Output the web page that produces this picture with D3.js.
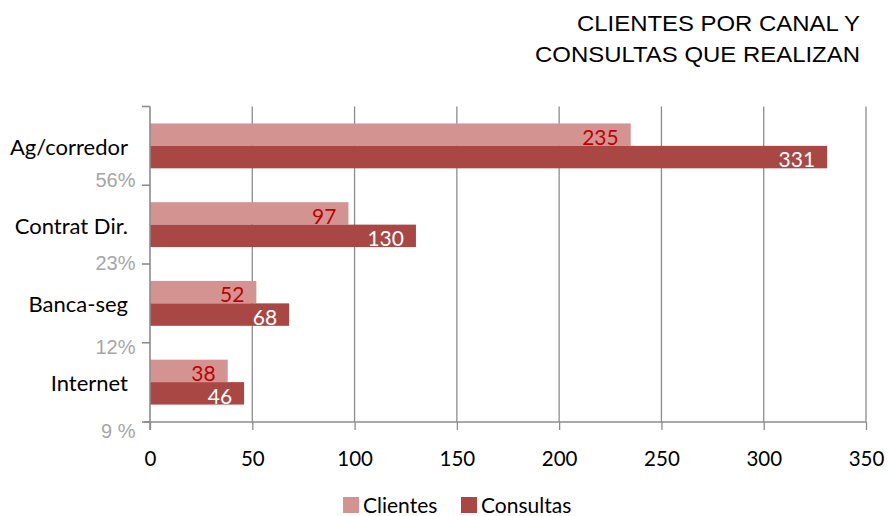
<!DOCTYPE html>
<html><head><meta charset="utf-8">
<script src="https://cdn.jsdelivr.net/npm/d3@7"></script>
<style>body{margin:0;background:#fff}svg{display:block}</style>
</head><body>
<svg id="c" width="889" height="516"></svg>
<script>
const categories = ["Ag/corredor", "Contrat Dir.", "Banca-seg", "Internet"];
const percents = ["56%", "23%", "12%", "9 %"];
const clientes = [235, 97, 52, 38];
const consultas = [331, 130, 68, 46];
const xTicks = [0, 50, 100, 150, 200, 250, 300, 350];
const seriesNames = ["Clientes", "Consultas"];
const colors = ["#d39391", "#a94745"];
const titleLines = ["CLIENTES POR CANAL Y", "CONSULTAS QUE REALIZAN"];

(function () {
const svg = d3.select("#c");
const mLeft = 150, mRight = 866, mTop = 106.5, mBottom = 422;
const x = d3.scaleLinear().domain([0, 350]).range([mLeft, mRight]);
const y = d3.scaleBand().domain(categories).range([mTop, mBottom - 0.5]).paddingInner(0.43).paddingOuter(0.215);
const sub = d3.scaleBand().domain(seriesNames).range([0, y.bandwidth()]);
const calib = "Lato, 'Open Sans', sans-serif";
const arial = "Arial, 'Liberation Sans', Helvetica, sans-serif";
const grey = "#8c8c8c";

// gridlines
svg.append("g").selectAll("line").data(xTicks.slice(1)).join("line")
  .attr("x1", d => x(d)).attr("x2", d => x(d)).attr("y1", mTop).attr("y2", mBottom)
  .attr("stroke", grey).attr("stroke-width", 1.3);

// bars
const data = categories.map((c, i) => ({c, vals: [clientes[i], consultas[i]]}));
const g = svg.append("g");
data.forEach(d => {
  d.vals.forEach((v, j) => {
    const by = y(d.c) + sub(seriesNames[j]);
    g.append("rect").attr("x", x(0)).attr("y", by)
      .attr("width", x(v) - x(0)).attr("height", sub.bandwidth()).attr("fill", colors[j]);
    g.append("text").attr("x", x(v) - 12).attr("y", by + sub.bandwidth() - 1)
      .attr("text-anchor", "end").attr("font-family", calib).attr("font-size", 21)
      .attr("fill", j === 0 ? "#c00000" : "#ffffff").text(v);
  });
});

// x axis
const xa = svg.append("g").attr("transform", `translate(0,${mBottom})`)
  .call(d3.axisBottom(x).tickValues(xTicks).tickSize(8).tickPadding(21));
xa.select(".domain").attr("stroke", grey).attr("stroke-width", 1.5).attr("d", `M${mLeft - 6},0H${mRight}`);
xa.selectAll(".tick line").attr("stroke", grey).attr("stroke-width", 1.3);
xa.selectAll(".tick text").attr("font-family", calib).attr("font-size", 20.5).attr("fill", "#000");

// y axis line and ticks at category boundaries
const bounds = [mTop, ...categories.map((c, i) => i < categories.length - 1 ? (y(c) + y.bandwidth() + y(categories[i + 1])) / 2 : mBottom)];
svg.append("line").attr("x1", mLeft).attr("x2", mLeft).attr("y1", mTop).attr("y2", mBottom + 8)
  .attr("stroke", grey).attr("stroke-width", 1.6);
svg.append("g").selectAll("line").data(bounds).join("line")
  .attr("x1", mLeft - 8).attr("x2", mLeft).attr("y1", d => d).attr("y2", d => d)
  .attr("stroke", grey).attr("stroke-width", 1.6);

// category labels
svg.append("g").selectAll("text").data(categories).join("text")
  .attr("x", 128).attr("y", d => y(d) + y.bandwidth() / 2 + 9)
  .attr("text-anchor", "end").attr("font-family", calib).attr("font-size", 22).attr("fill", "#000").text(d => d);

// percent labels
const py = d3.scalePoint().domain(percents).range([186.5, 437.5]);
svg.append("g").selectAll("text").data(percents).join("text")
  .attr("x", 135.5).attr("y", d => py(d))
  .attr("text-anchor", "end").style("font-family", arial)
  .attr("font-size", 20).attr("fill", "#a6a6a6").text(d => d);

// title
const tw = [283, 325];
svg.append("g").selectAll("text").data(titleLines).join("text")
  .attr("x", 860).attr("y", (d, i) => 31 + i * 31)
  .attr("text-anchor", "end").style("font-family", arial).attr("font-size", 22.5).attr("fill", "#000")
  .attr("textLength", (d, i) => tw[i]).attr("lengthAdjust", "spacingAndGlyphs")
  .text(d => d);

// legend
const legX = [343, 461];
seriesNames.forEach((s, j) => {
  svg.append("rect").attr("x", legX[j]).attr("y", 497).attr("width", 16).attr("height", 16).attr("fill", colors[j]);
  svg.append("text").attr("x", legX[j] + 20).attr("y", 513).attr("font-family", calib).attr("font-size", 21)
    .attr("fill", "#000").text(s);
});
})();
</script>
</body></html>
